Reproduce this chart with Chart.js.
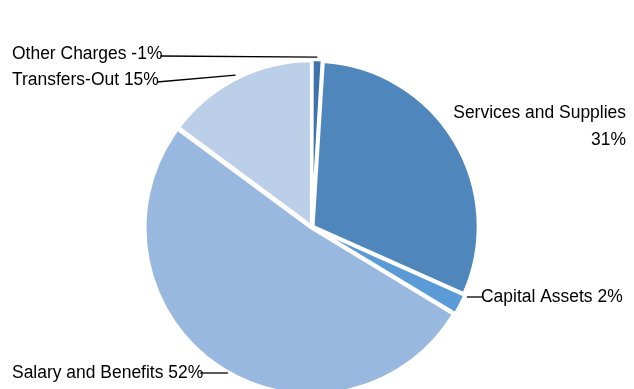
<!DOCTYPE html>
<html>
<head>
<meta charset="utf-8">
<script src="https://cdn.jsdelivr.net/npm/chart.js@4.4.0/dist/chart.umd.min.js"></script>
<style>
    html, body { margin: 0; padding: 0; background: #ffffff; }
    #wrap { width: 634px; height: 389px; position: relative; }
</style>
</head>
<body>
<div id="wrap"><canvas id="chart"></canvas></div>
<script>
// Slice order follows the picture, clockwise from 12 o'clock
const categories = ["Other Charges", "Services and Supplies", "Capital Assets", "Salary and Benefits", "Transfers-Out"];
const shares = [1, 31, 2, 52, 15];
const shareLabels = ["-1%", "31%", "2%", "52%", "15%"];
const sliceColors = ["#3f73ab", "#4f87bd", "#5a9ad6", "#98b8df", "#bccfe9"];

// Where each label sits; leader "mid" runs to the slice's mid-angle edge,
// "flat" runs horizontally until it meets the slice edge
const labelLayout = [
    { x: 12, y: 54, align: "left", lines: [categories[0] + " " + shareLabels[0]], leader: "mid" },
    { x: 626, y: 113, align: "right", lines: [categories[1], shareLabels[1]], leader: null },
    { x: 481, y: 297, align: "left", lines: [categories[2] + " " + shareLabels[2]], leader: "flat" },
    { x: 12, y: 373, align: "left", lines: [categories[3] + " " + shareLabels[3]], leader: "flat" },
    { x: 12, y: 80, align: "left", lines: [categories[4] + " " + shareLabels[4]], leader: "mid" }
];

const FONT = "18px 'Liberation Sans', Arial, sans-serif";
const SQUEEZE = 0.97;

const pieLabels = {
    id: "pieLabels",
    afterDatasetsDraw(chart) {
        const ctx = chart.ctx;
        const arcs = chart.getDatasetMeta(0).data;
        ctx.save();
        ctx.font = FONT;
        ctx.fillStyle = "#000000";
        ctx.strokeStyle = "#000000";
        ctx.lineWidth = 1.3;
        ctx.textBaseline = "middle";

        labelLayout.forEach((lab, i) => {
            const arc = arcs[i];
            const props = arc.getProps(["x", "y", "startAngle", "endAngle", "outerRadius"], true);
            const mid = (props.startAngle + props.endAngle) / 2;
            const off = arc.options.offset || 0;
            const cx = props.x + Math.cos(mid) * off;
            const cy = props.y + Math.sin(mid) * off;
            const r = props.outerRadius;

            // text, squeezed a little horizontally
            ctx.textAlign = lab.align;
            lab.lines.forEach((line, k) => {
                ctx.save();
                ctx.translate(lab.x, lab.y + k * 27);
                ctx.scale(SQUEEZE, 1);
                ctx.fillText(line, 0, 0);
                ctx.restore();
            });

            if (!lab.leader) return;
            const w = ctx.measureText(lab.lines[0]).width * SQUEEZE;
            let sx, sy, ex, ey;
            if (lab.leader === "mid") {
                sx = lab.x + w - 2;
                sy = lab.y + 2;
                ex = cx + Math.cos(mid) * r;
                ey = cy + Math.sin(mid) * r;
            } else {
                const dy = lab.y - cy;
                const dx = Math.sqrt(Math.max(r * r - dy * dy, 0));
                sy = ey = lab.y;
                if (lab.x > cx) {
                    sx = cx + dx;
                    ex = lab.x + 1;
                } else {
                    sx = lab.x + w - 3;
                    ex = cx - dx + 3;
                }
            }
            ctx.beginPath();
            ctx.moveTo(sx, sy);
            ctx.lineTo(ex, ey);
            ctx.stroke();
        });
        ctx.restore();
    }
};

new Chart(document.getElementById("chart"), {
    type: "pie",
    data: {
        labels: categories,
        datasets: [{
            data: shares,
            backgroundColor: sliceColors,
            borderColor: "#ffffff",
            borderWidth: 3,
            offset: 5,
            radius: 165,
            clip: false
        }]
    },
    options: {
        responsive: true,
        maintainAspectRatio: false,
        animation: false,
        layout: { padding: { top: 65, bottom: 0, left: 0, right: 10 } },
        plugins: {
            legend: { display: false },
            tooltip: { enabled: false }
        }
    },
    plugins: [pieLabels]
});
</script>
</body>
</html>
